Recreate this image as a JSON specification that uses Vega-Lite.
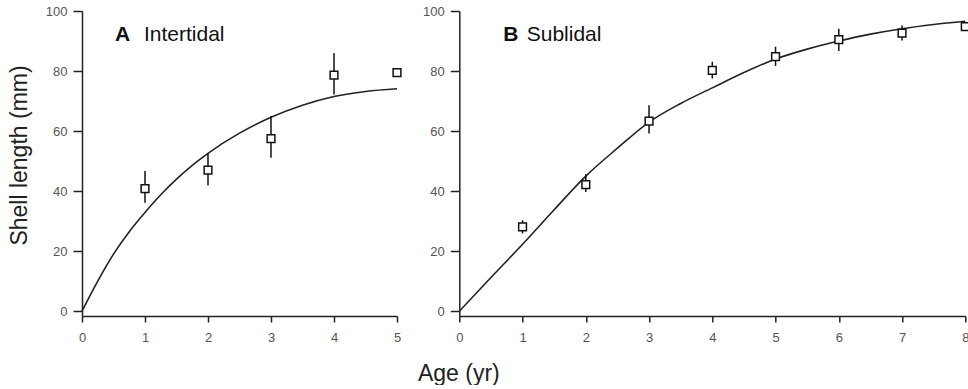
{
  "$schema": "https://vega.github.io/schema/vega-lite/v6.json",
  "padding": {"left": 7, "top": 5, "right": 0, "bottom": 0},
  "background": "white",
  "datasets": {
    "curveA": [{"age":0,"len":0},{"age":0.25,"len":10},{"age":0.5,"len":19},{"age":0.75,"len":26.5},{"age":1,"len":32.9},{"age":1.25,"len":38.8},{"age":1.5,"len":44},{"age":1.75,"len":48.6},{"age":2,"len":52.6},{"age":2.5,"len":59.3},{"age":3,"len":64.6},{"age":3.5,"len":68.6},{"age":4,"len":71.5},{"age":4.5,"len":73.2},{"age":5,"len":74.1}],
    "pointsA": [{"age":1,"len":40.8,"lo":36.1,"hi":46.7},{"age":2,"len":47,"lo":41.9,"hi":52.6},{"age":3,"len":57.5,"lo":51.1,"hi":65},{"age":4,"len":78.6,"lo":72.2,"hi":85.9},{"age":5,"len":79.5,"lo":79.5,"hi":79.5}],
    "curveB": [{"age":0,"len":0},{"age":0.5,"len":11.2},{"age":1,"len":22.3},{"age":1.5,"len":33.8},{"age":2,"len":45},{"age":2.5,"len":54.3},{"age":3,"len":63},{"age":3.5,"len":69.2},{"age":4,"len":74.4},{"age":4.5,"len":79.5},{"age":5,"len":84},{"age":5.5,"len":87.3},{"age":6,"len":90},{"age":6.5,"len":92.3},{"age":7,"len":94.1},{"age":7.5,"len":95.5},{"age":8,"len":96.6}],
    "pointsB": [{"age":1,"len":28.1,"lo":25.9,"hi":30.3},{"age":2,"len":42.2,"lo":39.7,"hi":45.6},{"age":3,"len":63.3,"lo":59.2,"hi":68.6},{"age":4,"len":80.2,"lo":77.5,"hi":83.1},{"age":5,"len":84.8,"lo":81.7,"hi":88.1},{"age":6,"len":90.5,"lo":86.7,"hi":94.1},{"age":7,"len":92.6,"lo":90.2,"hi":95.2},{"age":8,"len":94.8,"lo":94.8,"hi":94.8}],
    "labelsA": [{"age":0.524,"len":90,"t":"A","w":"bold"},{"age":0.984,"len":90,"t":"Intertidal","w":"normal"}],
    "labelsB": [{"age":0.696,"len":90,"t":"B","w":"bold"},{"age":1.066,"len":90,"t":"Sublidal","w":"normal"}]
  },
  "hconcat": [
    {
      "width": 315,
      "height": 305,
      "layer": [
        {
          "data": {"name": "curveA"},
          "mark": {"type": "line", "color": "#222", "strokeWidth": 1.6, "interpolate": "monotone"},
          "encoding": {
            "x": {"field": "age", "type": "quantitative", "scale": {"domain": [0, 5], "nice": false, "zero": false},
                  "axis": {"values": [0,1,2,3,4,5], "format": "d", "title": null}},
            "y": {"field": "len", "type": "quantitative", "scale": {"domain": [-1.6, 100], "nice": false, "zero": false},
                  "axis": {"values": [0,20,40,60,80,100], "format": "d", "title": "Shell length (mm)", "titleX": -56, "titleY": 144, "titleAngle": -90, "titleAlign": "center", "titleBaseline": "alphabetic"}}
          }
        },
        {
          "data": {"name": "pointsA"},
          "mark": {"type": "rule", "color": "#111", "strokeWidth": 1.5},
          "encoding": {
            "x": {"field": "age", "type": "quantitative"},
            "y": {"field": "lo", "type": "quantitative"},
            "y2": {"field": "hi"}
          }
        },
        {
          "data": {"name": "pointsA"},
          "mark": {"type": "point", "shape": "square", "filled": true, "fill": "white", "stroke": "#111", "strokeWidth": 1.5, "size": 60, "opacity": 1},
          "encoding": {
            "x": {"field": "age", "type": "quantitative"},
            "y": {"field": "len", "type": "quantitative"}
          }
        },
        {
          "data": {"name": "labelsA"},
          "transform": [{"filter": "datum.w === 'bold'"}],
          "mark": {"type": "text", "align": "left", "baseline": "alphabetic", "font": "Liberation Sans", "fontSize": 21, "fontWeight": "bold", "color": "#111"},
          "encoding": {
            "x": {"field": "age", "type": "quantitative"},
            "y": {"field": "len", "type": "quantitative"},
            "text": {"field": "t"}
          }
        },
        {
          "data": {"name": "labelsA"},
          "transform": [{"filter": "datum.w === 'normal'"}],
          "mark": {"type": "text", "align": "left", "baseline": "alphabetic", "font": "Liberation Sans", "fontSize": 21, "fontWeight": "normal", "color": "#111"},
          "encoding": {
            "x": {"field": "age", "type": "quantitative"},
            "y": {"field": "len", "type": "quantitative"},
            "text": {"field": "t"}
          }
        }
      ]
    },
    {
      "width": 506,
      "height": 305,
      "layer": [
        {
          "data": {"name": "curveB"},
          "mark": {"type": "line", "color": "#222", "strokeWidth": 1.6, "interpolate": "monotone"},
          "encoding": {
            "x": {"field": "age", "type": "quantitative", "scale": {"domain": [0, 8], "nice": false, "zero": false},
                  "axis": {"values": [0,1,2,3,4,5,6,7,8], "format": "d", "title": "Age (yr)", "titleX": -1, "titleY": 64, "titleAlign": "center", "titleAnchor": null, "titleBaseline": "alphabetic"}},
            "y": {"field": "len", "type": "quantitative", "scale": {"domain": [-1.6, 100], "nice": false, "zero": false},
                  "axis": {"values": [0,20,40,60,80,100], "format": "d", "title": null}}
          }
        },
        {
          "data": {"name": "pointsB"},
          "mark": {"type": "rule", "color": "#111", "strokeWidth": 1.5},
          "encoding": {
            "x": {"field": "age", "type": "quantitative"},
            "y": {"field": "lo", "type": "quantitative"},
            "y2": {"field": "hi"}
          }
        },
        {
          "data": {"name": "pointsB"},
          "mark": {"type": "point", "shape": "square", "filled": true, "fill": "white", "stroke": "#111", "strokeWidth": 1.5, "size": 60, "opacity": 1},
          "encoding": {
            "x": {"field": "age", "type": "quantitative"},
            "y": {"field": "len", "type": "quantitative"}
          }
        },
        {
          "data": {"name": "labelsB"},
          "transform": [{"filter": "datum.w === 'bold'"}],
          "mark": {"type": "text", "align": "left", "baseline": "alphabetic", "font": "Liberation Sans", "fontSize": 21, "fontWeight": "bold", "color": "#111"},
          "encoding": {
            "x": {"field": "age", "type": "quantitative"},
            "y": {"field": "len", "type": "quantitative"},
            "text": {"field": "t"}
          }
        },
        {
          "data": {"name": "labelsB"},
          "transform": [{"filter": "datum.w === 'normal'"}],
          "mark": {"type": "text", "align": "left", "baseline": "alphabetic", "font": "Liberation Sans", "fontSize": 21, "fontWeight": "normal", "color": "#111"},
          "encoding": {
            "x": {"field": "age", "type": "quantitative"},
            "y": {"field": "len", "type": "quantitative"},
            "text": {"field": "t"}
          }
        }
      ]
    }
  ],
  "bounds": "flush",
  "spacing": 62.3,
  "config": {
    "view": {"stroke": null},
    "axis": {
      "grid": false,
      "domainColor": "#222",
      "domainWidth": 1.5,
      "tickColor": "#222",
      "tickWidth": 1.5,
      "labelColor": "#555",
      "labelFont": "Liberation Sans",
      "labelFontSize": 13,
      "labelOverlap": false,
      "titleFont": "Liberation Sans",
      "titleFontSize": 23,
      "titleFontWeight": "normal",
      "titleColor": "#222"
    },
    "axisX": {"tickSize": 6, "labelPadding": 9, "labelFlush": false},
    "axisY": {"tickSize": 9, "labelPadding": 6}
  }
}
